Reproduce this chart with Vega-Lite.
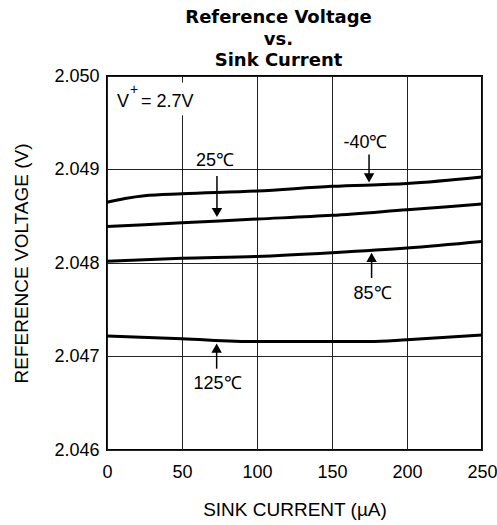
{
  "$schema": "https://vega.github.io/schema/vega-lite/v6.json",
  "width": 375,
  "height": 374,
  "autosize": {"type": "none"},
  "padding": {"left": 107, "top": 76, "right": 15, "bottom": 75},
  "background": "white",
  "title": {
    "text": ["Reference Voltage", "vs.", "Sink Current"],
    "font": "DejaVu Sans",
    "fontSize": 18,
    "fontWeight": "bold",
    "lineHeight": 21.5,
    "color": "black",
    "anchor": "middle",
    "frame": "group",
    "dx": -16,
    "offset": 0,
    "dy": 3
  },
  "config": {
    "view": {"stroke": "black", "strokeWidth": 2},
    "axis": {
      "labelFont": "Liberation Sans",
      "labelFontSize": 18,
      "labelColor": "black",
      "titleFont": "Liberation Sans",
      "titleFontSize": 19,
      "titleFontWeight": "normal",
      "titleColor": "black",
      "ticks": false,
      "domain": false,
      "gridColor": "#222",
      "gridWidth": 1,
      "gridOpacity": 1,
      "labelFlush": false,
      "labelOverlap": false,
      "labelBound": false
    },
    "text": {"font": "Liberation Sans", "fontSize": 18, "color": "black"}
  },
  "datasets": {
    "curves": [
      {"current": 0, "voltage": 2.04865, "temp": "-40℃"},
      {"current": 12, "voltage": 2.04869, "temp": "-40℃"},
      {"current": 25, "voltage": 2.04872, "temp": "-40℃"},
      {"current": 50, "voltage": 2.04874, "temp": "-40℃"},
      {"current": 100, "voltage": 2.04877, "temp": "-40℃"},
      {"current": 150, "voltage": 2.04882, "temp": "-40℃"},
      {"current": 200, "voltage": 2.04885, "temp": "-40℃"},
      {"current": 250, "voltage": 2.04892, "temp": "-40℃"},
      {"current": 0, "voltage": 2.04839, "temp": "25℃"},
      {"current": 50, "voltage": 2.04843, "temp": "25℃"},
      {"current": 100, "voltage": 2.04847, "temp": "25℃"},
      {"current": 150, "voltage": 2.04851, "temp": "25℃"},
      {"current": 200, "voltage": 2.04857, "temp": "25℃"},
      {"current": 250, "voltage": 2.04863, "temp": "25℃"},
      {"current": 0, "voltage": 2.04802, "temp": "85℃"},
      {"current": 50, "voltage": 2.04805, "temp": "85℃"},
      {"current": 100, "voltage": 2.04807, "temp": "85℃"},
      {"current": 150, "voltage": 2.04811, "temp": "85℃"},
      {"current": 200, "voltage": 2.04816, "temp": "85℃"},
      {"current": 250, "voltage": 2.04823, "temp": "85℃"},
      {"current": 0, "voltage": 2.04722, "temp": "125℃"},
      {"current": 50, "voltage": 2.04719, "temp": "125℃"},
      {"current": 100, "voltage": 2.04716, "temp": "125℃"},
      {"current": 150, "voltage": 2.04716, "temp": "125℃"},
      {"current": 175, "voltage": 2.04716, "temp": "125℃"},
      {"current": 200, "voltage": 2.04718, "temp": "125℃"},
      {"current": 250, "voltage": 2.04723, "temp": "125℃"}
    ],
    "labels": [
      {"x": 72, "y": 2.04904, "t": "25℃"},
      {"x": 172.3, "y": 2.04923, "t": "-40℃"},
      {"x": 177, "y": 2.04761, "t": "85℃"},
      {"x": 73.7, "y": 2.04665, "t": "125℃"}
    ],
    "arrows": [
      {"x": 73.3, "y": 2.04893, "y2": 2.04857, "dir": "down"},
      {"x": 174.7, "y": 2.04916, "y2": 2.04893, "dir": "down"},
      {"x": 176.4, "y": 2.04784, "y2": 2.04805, "dir": "up"},
      {"x": 73.1, "y": 2.04687, "y2": 2.04708, "dir": "up"}
    ],
    "heads": [
      {"x": 73.3, "y": 2.04854, "dir": "down"},
      {"x": 174.7, "y": 2.04891, "dir": "down"},
      {"x": 176.4, "y": 2.04806, "dir": "up"},
      {"x": 73.1, "y": 2.04709, "dir": "up"}
    ]
  },
  "layer": [
    {
      "data": {"values": [{"x0": 2, "x1": 64, "y0": 2.04958, "y1": 2.04993}]},
      "mark": {"type": "rect", "fill": "white", "stroke": null},
      "encoding": {
        "x": {"field": "x0", "type": "quantitative", "scale": {"domain": [0, 250], "nice": false, "zero": false},
          "axis": {"values": [0, 50, 100, 150, 200, 250], "title": "SINK CURRENT (µA)", "labelPadding": 13, "titlePadding": 19, "grid": true, "format": "d"}},
        "x2": {"field": "x1"},
        "y": {"field": "y0", "type": "quantitative", "scale": {"domain": [2.046, 2.05], "nice": false, "zero": false},
          "axis": {"values": [2.046, 2.047, 2.048, 2.049, 2.05], "format": ".3f", "title": "REFERENCE VOLTAGE (V)", "labelPadding": 8, "titlePadding": 22, "grid": true}},
        "y2": {"field": "y1"}
      }
    },
    {
      "data": {"name": "curves"},
      "mark": {"type": "line", "color": "black", "strokeWidth": 3, "interpolate": "monotone"},
      "encoding": {
        "x": {"field": "current", "type": "quantitative"},
        "y": {"field": "voltage", "type": "quantitative"},
        "detail": {"field": "temp"}
      }
    },
    {
      "data": {"name": "arrows"},
      "mark": {"type": "rule", "color": "black", "strokeWidth": 1.5},
      "encoding": {
        "x": {"field": "x", "type": "quantitative"},
        "y": {"field": "y", "type": "quantitative"},
        "y2": {"field": "y2"}
      }
    },
    {
      "data": {"name": "heads"},
      "transform": [{"filter": "datum.dir === 'down'"}],
      "mark": {"type": "point", "shape": "triangle-down", "filled": true, "color": "black", "size": 110, "opacity": 1},
      "encoding": {
        "x": {"field": "x", "type": "quantitative"},
        "y": {"field": "y", "type": "quantitative"}
      }
    },
    {
      "data": {"name": "heads"},
      "transform": [{"filter": "datum.dir === 'up'"}],
      "mark": {"type": "point", "shape": "triangle-up", "filled": true, "color": "black", "size": 110, "opacity": 1},
      "encoding": {
        "x": {"field": "x", "type": "quantitative"},
        "y": {"field": "y", "type": "quantitative"}
      }
    },
    {
      "data": {"name": "labels"},
      "mark": {"type": "text", "align": "center", "baseline": "alphabetic"},
      "encoding": {
        "x": {"field": "x", "type": "quantitative"},
        "y": {"field": "y", "type": "quantitative"},
        "text": {"field": "t"}
      }
    },
    {
      "data": {"values": [{"x": 6.7, "y": 2.04967, "t": "V"}, {"x": 22.7, "y": 2.04967, "t": "= 2.7V"}]},
      "mark": {"type": "text", "align": "left", "baseline": "alphabetic"},
      "encoding": {
        "x": {"field": "x", "type": "quantitative"},
        "y": {"field": "y", "type": "quantitative"},
        "text": {"field": "t"}
      }
    },
    {
      "data": {"values": [{"x": 18, "y": 2.04985, "t": "+"}]},
      "mark": {"type": "text", "align": "center", "baseline": "middle", "fontSize": 14},
      "encoding": {
        "x": {"field": "x", "type": "quantitative"},
        "y": {"field": "y", "type": "quantitative"},
        "text": {"field": "t"}
      }
    }
  ]
}
